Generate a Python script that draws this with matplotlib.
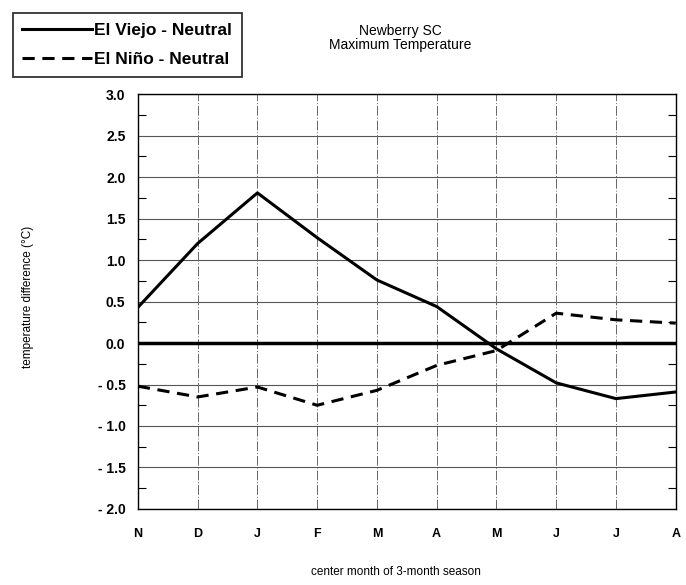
import matplotlib
matplotlib.use("Agg")
import matplotlib.pyplot as plt
import numpy as np
from matplotlib.ticker import MultipleLocator

plt.rcParams['font.family'] = ['Liberation Sans', 'DejaVu Sans']

months = ['N', 'D', 'J', 'F', 'M', 'A', 'M', 'J', 'J', 'A']
el_viejo = [0.43, 1.20, 1.81, 1.27, 0.76, 0.44, -0.07, -0.48, -0.67, -0.59]
el_nino = [-0.52, -0.65, -0.53, -0.75, -0.57, -0.27, -0.09, 0.36, 0.28, 0.24]

x = np.arange(len(months))

fig = plt.figure(figsize=(6.86, 5.85), dpi=100)
ax = fig.add_axes([0.201, 0.130, 0.784, 0.709])

# grid
for yv in np.arange(-2.0, 3.01, 0.5):
    ax.axhline(yv, color='#555555', lw=0.8, zorder=1)
for xv in x[1:-1]:
    ax.axvline(xv, color='#666666', lw=0.7, ls=(0, (10, 2, 1, 2)), zorder=1)

ax.axhline(0, color='black', lw=2.5, zorder=2)
ax.plot(x, el_viejo, color='black', lw=2.2, zorder=3, label='El Viejo - Neutral')
ax.plot(x, el_nino, color='black', lw=2.2, ls=(0, (4, 2.5)), zorder=3, label='El Niño - Neutral')

ax.set_xlim(0, len(months) - 1)
ax.set_ylim(-2.0, 3.0)
ax.set_xticks(x)
ax.set_xticklabels(months, fontsize=9, fontweight='bold')
ax.yaxis.set_major_locator(MultipleLocator(0.5))
ax.yaxis.set_minor_locator(MultipleLocator(0.25))
ax.set_yticklabels([f'{v:.1f}'.replace('-', '- ') for v in ax.get_yticks()],
                   fontsize=10, fontweight='bold')
ax.tick_params(axis='x', length=0, pad=14)
ax.tick_params(axis='y', which='major', length=0, pad=9)
ax.tick_params(axis='y', which='minor', length=6, direction='in', right=True, width=0.8)
for s in ax.spines.values():
    s.set_linewidth(1.0)

fig.text(0.577, 0.022, 'center month of 3-month season', ha='center', va='center', fontsize=8.5)
fig.text(0.041, 0.492, 'temperature difference (°C)', ha='center', va='center',
         rotation=90, fontsize=8.5)

fig.text(0.583, 0.935, 'Newberry SC\nMaximum Temperature', ha='center', va='center',
         fontsize=10, linespacing=1.0)

leg = fig.legend(loc='upper left', bbox_to_anchor=(0.006, 0.992), frameon=True,
                 fancybox=False, shadow=False, handlelength=4.0, handletextpad=0.15,
                 borderpad=0.55, labelspacing=0.8, fontsize=12.5)
leg.get_frame().set_edgecolor('black')
leg.get_frame().set_linewidth(1.3)
for t in leg.get_texts():
    t.set_fontweight('bold')

fig.savefig('out.png', dpi=100)
